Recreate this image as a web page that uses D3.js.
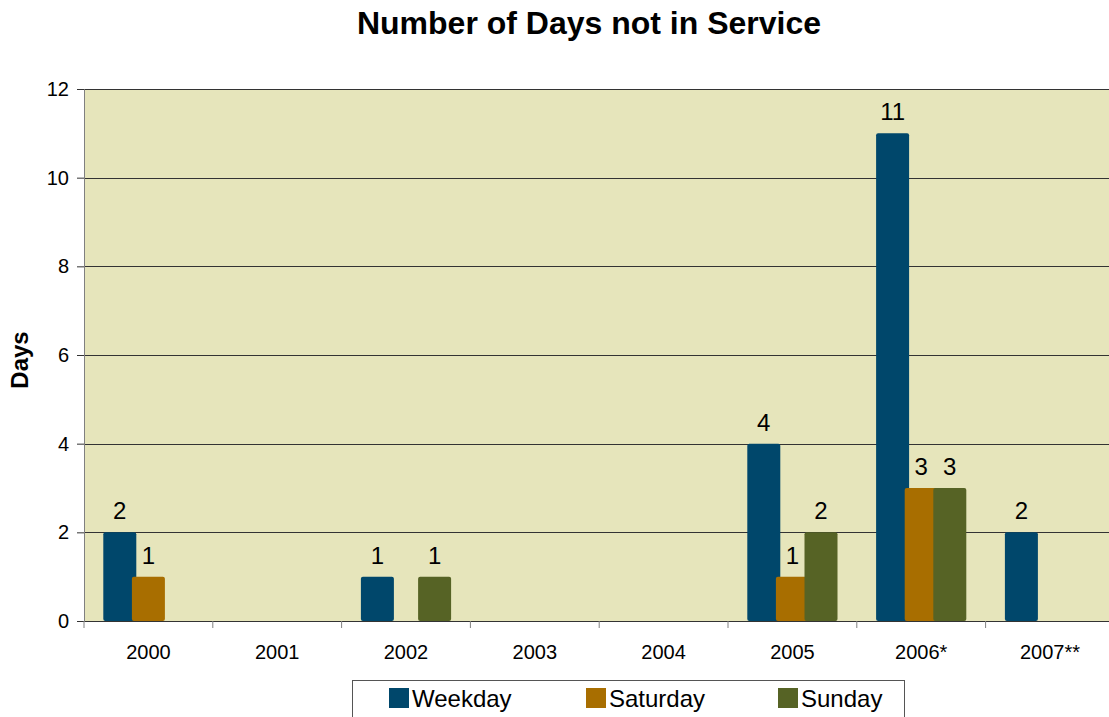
<!DOCTYPE html>
<html><head><meta charset="utf-8">
<script src="https://cdn.jsdelivr.net/npm/d3@7/dist/d3.min.js"></script>
<style>body{margin:0;background:#fff;}svg{display:block;font-family:"Liberation Sans",Arial,sans-serif;}</style>
</head><body>
<svg id="c" width="1109" height="717"></svg>
<script>
const categories = ["2000","2001","2002","2003","2004","2005","2006*","2007**"];
const seriesNames = ["Weekday","Saturday","Sunday"];
const weekday  = [2,0,1,0,0,4,11,2];
const saturday = [1,0,0,0,0,1,3,0];
const sunday   = [0,0,1,0,0,2,3,0];
const yTicks = [0,2,4,6,8,10,12];
const colors = ["#00476B","#A86E00","#566325"];
const seriesValues = [weekday, saturday, sunday];

const svg = d3.select("#c");
const L = 84, T = 89, B = 621, R = 84 + 8*128.8;

svg.append("text").attr("x",589).attr("y",34).attr("text-anchor","middle")
  .attr("font-size",32).attr("font-weight","bold").text("Number of Days not in Service");

const x = d3.scaleBand().domain(categories).range([L,R]).padding(0);
const y = d3.scaleLinear().domain([0,12]).range([B,T]);

svg.append("rect").attr("x",L).attr("y",T).attr("width",R-L).attr("height",B-T).attr("fill","#E6E5BB");

// gridlines
svg.append("g").selectAll("line").data(yTicks.filter(d=>d>0)).join("line")
  .attr("x1",L).attr("x2",R).attr("y1",d=>Math.round(y(d))+0.5).attr("y2",d=>Math.round(y(d))+0.5)
  .attr("stroke","#333").attr("stroke-width",1);

// bars
const bw = x.bandwidth();
const barW = 33, step = 28.6;
const groupW = step*2 + barW;
const off = (bw - groupW)/2;
seriesValues.forEach((vals,si)=>{
  const data = categories.map((c,i)=>({c,v:vals[i]})).filter(d=>d.v>0);
  svg.append("g").selectAll("rect").data(data).join("rect")
    .attr("x",d=>x(d.c)+off+si*step).attr("y",d=>y(d.v))
    .attr("width",barW).attr("height",d=>B-y(d.v))
    .attr("rx",2).attr("fill",colors[si]);
});
seriesValues.forEach((vals,si)=>{
  const data = categories.map((c,i)=>({c,v:vals[i]})).filter(d=>d.v>0);
  svg.append("g").selectAll("text").data(data).join("text")
    .attr("x",d=>x(d.c)+off+si*step+barW/2).attr("y",d=>y(d.v)-13)
    .attr("text-anchor","middle").attr("font-size",24).attr("fill","#000").text(d=>d.v);
});

// axes
const ya = svg.append("g").attr("transform",`translate(${L},0)`)
  .call(d3.axisLeft(y).tickValues(yTicks).tickSize(7).tickPadding(8));
ya.select(".domain").attr("stroke","#808080");
ya.selectAll(".tick line").attr("stroke","#333");
ya.selectAll("text").attr("font-size",20).attr("fill","#000").attr("font-family","Liberation Sans, Arial, sans-serif");

const xa = svg.append("g").attr("transform",`translate(0,${B})`)
  .call(d3.axisBottom(x).tickSize(0).tickPadding(24));
xa.select(".domain").attr("stroke","#333");
xa.selectAll("text").attr("font-size",20).attr("fill","#000").attr("font-family","Liberation Sans, Arial, sans-serif");
svg.append("g").selectAll("line").data(categories.concat(["end"])).join("line")
  .attr("x1",(d,i)=>L+i*bw).attr("x2",(d,i)=>L+i*bw).attr("y1",B).attr("y2",B+7)
  .attr("stroke","#808080");

svg.append("text").attr("transform","translate(28,360) rotate(-90)").attr("text-anchor","middle")
  .attr("font-size",24).attr("font-weight","bold").text("Days");

// legend
const lg = svg.append("g");
lg.append("rect").attr("x",352.5).attr("y",680.5).attr("width",552).attr("height",40)
  .attr("fill","#fff").attr("stroke","#555");
const lx = [389,586,778];
seriesNames.forEach((n,i)=>{
  lg.append("rect").attr("x",lx[i]).attr("y",688).attr("width",20).attr("height",20).attr("fill",colors[i]);
  lg.append("text").attr("x",lx[i]+23).attr("y",707).attr("font-size",24).text(n);
});
</script>
</body></html>
